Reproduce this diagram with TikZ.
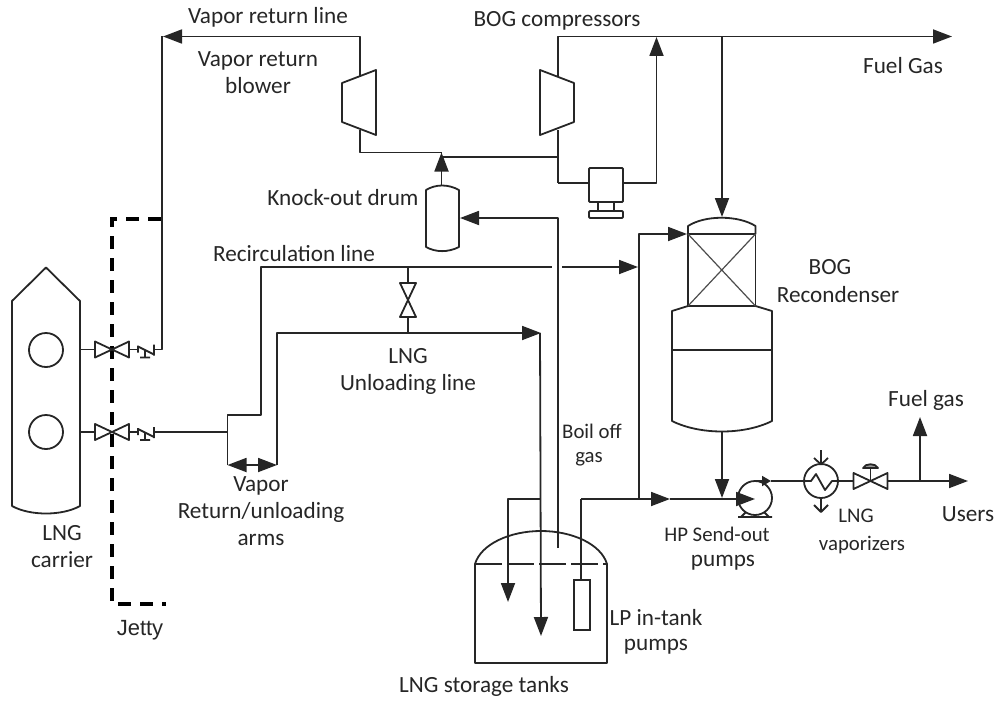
\documentclass[tikz,border=0pt]{standalone}
\usepackage{fontspec}
\setmainfont{Carlito}
\newfontfamily\jettyfont{Liberation Sans}
\usetikzlibrary{arrows.meta}
\tikzset{
  pipe/.style={line width=1.8pt,draw=black!85,line join=round},
  thinpipe/.style={line width=1.2pt,draw=black!70},
  flow/.style={pipe,-{Triangle[length=19pt,width=14pt]}},
  bothflow/.style={pipe,{Triangle[length=19pt,width=14pt]}-{Triangle[length=19pt,width=14pt]}},
  jettyline/.style={line width=4pt,draw=black,dash pattern=on 13pt off 9pt},
  lbl/.style={font=\fontsize{23.2}{24}\selectfont,text=black!85,inner sep=0pt,align=center},
  lblsmall/.style={lbl,font=\fontsize{20.8}{24}\selectfont},
  valveh/.pic={\draw[pipe] (-17,-8) -- (17,8) -- (17,-8) -- (-17,8) -- cycle;},
  valvev/.pic={\draw[pipe] (-8,-17) -- (8,17) -- (-8,17) -- (8,-17) -- cycle;},
  swivel/.pic={\draw[pipe] (0,-4) -- (0,3) (0,-3) -- (16,5) (16,-5) -- (16,6) (7,0) -- (7,8) (2,8) -- (12,8);},
  compressor/.pic={\draw[pipe] (-17,-20) -- (17,-33) -- (17,32) -- (-17,19) -- cycle;}
}
\begin{document}
\begin{tikzpicture}[x=1pt,y=-1pt]
\useasboundingbox (0,0) rectangle (1000,701);

% jetty
\coordinate (jtop) at (161,219);
\coordinate (jc1) at (112,219);
\coordinate (jc2) at (112,604);
\coordinate (jend) at (166,604);
\draw[jettyline] (jtop) -- (jc1) -- (jc2) -- (jend);

% LNG carrier
\draw[pipe] (12,301) -- (46,267.5) -- (80,301) -- (80,506) .. controls (62,516) and (30,516) .. (12,506) -- cycle;
\node[circle,draw=black!85,line width=1.8pt,minimum size=34pt,inner sep=0pt] (tankA) at (46,350) {};
\node[circle,draw=black!85,line width=1.8pt,minimum size=34pt,inner sep=0pt] (tankB) at (46,432) {};

% unloading valves
\coordinate (shipA) at (80,349.5);
\coordinate (shipB) at (80,432);
\coordinate (vAl) at (95,349.5);
\coordinate (vAr) at (129,349.5);
\coordinate (sAl) at (138,349.5);
\coordinate (sAr) at (154,349.5);
\coordinate (vBl) at (95,432);
\coordinate (vBr) at (129,432);
\coordinate (sBl) at (138,432);
\coordinate (sBr) at (154,432);
\pic at (112,349.5) {valveh};
\pic at (112,432) {valveh};
\pic at (138,349.5) {swivel};
\pic at (138,432) {swivel};
\draw[pipe] (shipA) -- (vAl) (vAr) -- (sAl);
\draw[pipe] (shipB) -- (vBl) (vBr) -- (sBl);

% vapour return line
\coordinate (vr1) at (162,349.5);
\coordinate (vr2) at (162,36.5);
\coordinate (vrtip) at (163,36.5);
\coordinate (bl1) at (360,36.5);
\coordinate (bl2) at (360,76);
\coordinate (bl3) at (360,130);
\coordinate (bl4) at (360,152.5);
\coordinate (koT) at (441.5,152.5);
\coordinate (koJ) at (441.5,157);
\draw[pipe] (sAr) -- (vr1) -- (vr2);
\draw[flow] (bl2) -- (bl1) -- (vrtip);
\pic at (359,103) {compressor};
\draw[pipe] (bl3) -- (bl4) -- (koT);

% BOG compressor and fuel gas
\coordinate (c1) at (558,76);
\coordinate (c2) at (558,36.5);
\coordinate (c3) at (558,130);
\coordinate (c4) at (558,157);
\coordinate (c5) at (558,183);
\coordinate (fgtip) at (952,36.5);
\coordinate (mr1) at (656.5,183);
\coordinate (mr2) at (656.5,37);
\coordinate (rtop) at (722,36.5);
\coordinate (rin) at (722,217);
\draw[flow] (c1) -- (c2) -- (fgtip);
\draw[pipe] (540,70) -- (574,83) -- (574,122) -- (540,135) -- cycle;
\draw[pipe] (c3) -- (c5);
\draw[pipe] (koT) -- (koJ) -- (c4);
\node[draw=black!85,line width=1.8pt,rounded corners=1pt,minimum size=34pt,inner sep=0pt] (motor) at (606,185) {};
\draw[pipe] (c5) -- (motor.west |- c5);
\draw[flow] (motor.east |- mr1) -- (mr1) -- (mr2);
\draw[pipe] (598,202) -- (598,211) (614,202) -- (614,211);
\draw[pipe,rounded corners=1pt] (589,211) rectangle (623,218);
\draw[flow] (rtop) -- (rin);

% knock-out drum
\draw[pipe] (426,190) .. controls (436,184) and (448,184) .. (459,190) -- (459,247) .. controls (448,252.5) and (436,252.5) .. (426,247) -- cycle;
\coordinate (drumT) at (441.5,185);
\coordinate (drumR) at (460,218);
\coordinate (bogturn) at (558,218);
\coordinate (bogend) at (558,548);
\draw[flow] (drumT) -- (koT);
\draw[flow] (bogend) -- (bogturn) -- (drumR);

% recirculation and unloading lines
\coordinate (a0) at (155,432);
\coordinate (a1) at (227.5,432);
\coordinate (a2) at (227.5,415);
\coordinate (a3) at (261,415);
\coordinate (a4) at (261,267);
\coordinate (gapL) at (552,267);
\coordinate (gapR) at (562,267);
\coordinate (rctip) at (638,267);
\coordinate (a5) at (227.5,465);
\coordinate (u1) at (277,465);
\coordinate (u2) at (277,333);
\coordinate (u3) at (541,333);
\coordinate (v1) at (408,267);
\coordinate (v2) at (408,283);
\coordinate (v3) at (408,317);
\coordinate (v4) at (408,333);
\draw[pipe] (a0) -- (a1);
\draw[pipe] (a5) -- (a2) -- (a3) -- (a4) -- (gapL);
\draw[flow] (gapR) -- (rctip);
\draw[bothflow] (a5) -- (u1);
\draw[flow] (u1) -- (u2) -- (u3);
\draw[pipe] (v1) -- (v2) (v3) -- (v4);
\pic at (408,300) {valvev};

% storage tank
\draw[pipe] (475,564) .. controls (481,544) and (510,531) .. (541,531) .. controls (572,531) and (601,544) .. (607,564) -- (607,663) -- (475,663) -- cycle;
\draw[draw=white,line width=2.5pt] (475.9,564) -- (606.1,564);
\draw[pipe,dash pattern=on 27pt off 5pt] (475,564) -- (607,564);
\coordinate (t1) at (540,333);
\coordinate (t2) at (541,636);
\coordinate (t3) at (508,499);
\coordinate (t4) at (508,602);
\coordinate (t5) at (540,499);
\draw[flow] (t1) -- (t2);
\draw[flow] (t5) -- (t3) -- (t4);
\node[draw=black!85,line width=1.8pt,minimum width=16pt,minimum height=50pt,inner sep=0pt] (lp) at (582,605) {};
\coordinate (lp1) at (581,499);
\coordinate (lp2) at (670,499);
\coordinate (lp3) at (639,499);
\coordinate (lp4) at (639,234);
\coordinate (lp5) at (687,234);
\coordinate (lp6) at (755,499);
\draw[pipe] (lp.north -| lp1) -- (lp1);
\draw[flow] (lp1) -- (lp2);
\draw[flow] (lp3) -- (lp4) -- (lp5);
\draw[flow] (lp2) -- (lp6);

% recondenser
\draw[pipe] (688,234) -- (688,226) .. controls (705,215) and (738,215) .. (755.5,226) -- (755.5,234) -- cycle;
\draw[pipe] (688,234) rectangle (755.5,306);
\draw[thinpipe] (688,234) -- (755.5,306) (755.5,234) -- (688,306);
\draw[pipe] (688,306) -- (672,311) -- (672,421) .. controls (700,435) and (744,435) .. (772,421) -- (772,311) -- (755.5,306);
\draw[pipe] (672,350) -- (772,350);
\coordinate (rb) at (722,432);
\coordinate (rbtip) at (722,498);
\draw[flow] (rb) -- (rbtip);

% HP pump
\node[circle,draw=black!85,line width=1.8pt,minimum size=34pt,inner sep=0pt] (pump) at (755,498) {};
\draw[pipe] (738,517) -- (772,517) (741,517) -- (746,512) (769,517) -- (764,512);
\coordinate (po1) at (755,481);
\coordinate (po2) at (771,481);
\coordinate (po3) at (804,481);
\draw[pipe,-{Triangle[length=9pt,width=10pt]}] (po1) -- (po2);
\draw[pipe] (po2) -- (po3);

% vaporizer
\node[circle,draw=black!85,line width=1.8pt,minimum size=34pt,inner sep=0pt] (hx) at (821,481) {};
\draw[pipe] (hx.west) -- (811,481) -- (816,474) -- (825,490) -- (832,481) -- (hx.east);
\coordinate (h1) at (821,450);
\coordinate (h2) at (821,498);
\coordinate (h3) at (821,512);
\draw[pipe] (h1) -- (hx.north);
\draw[pipe] (814,458) -- (821,464.5) -- (828,458);
\draw[pipe] (hx.south) -- (h3);
\draw[pipe] (814,505) -- (821,512) -- (828,505);

% control valve
\coordinate (cv1) at (854,481);
\coordinate (cv2) at (887,481);
\coordinate (usr) at (968,481);
\coordinate (fg1) at (920,481);
\coordinate (fg2) at (920,417);
\pic at (870.5,481) {valveh};
\draw[pipe] (hx.east) -- (cv1);
\draw[pipe] (870.5,481) -- (870.5,468);
\draw[pipe,fill=black!40] (863,468) .. controls (865,463) and (876,463) .. (878,468) -- cycle;
\draw[flow] (cv2) -- (usr);
\draw[flow] (fg1) -- (fg2);

% labels
\node[lbl] (t01) at (268,17) {Vapor return line};
\node[lbl] (t02) at (258,73) {Vapor return\\[3pt]blower};
\node[lbl] (t03) at (557,21) {BOG compressors};
\node[lbl] (t04) at (903,66) {Fuel Gas};
\node[lbl] (t05) at (343,198) {Knock-out drum};
\node[lbl] (t06) at (294,254) {Recirculation line};
\node[lbl] (t07) at (830,267) {BOG};
\node[lbl] (t08) at (838,295) {Recondenser};
\node[lbl] (t09) at (408,371) {LNG\\[3pt]Unloading line};
\node[lblsmall] (t10) at (592,431) {Boil off};
\node[lblsmall] (t11) at (589,459) {gas};
\node[lbl] (t12) at (926,400) {Fuel gas};
\node[lbl] (t13) at (968,514) {Users};
\node[lblsmall] (t14) at (856,516) {LNG};
\node[lblsmall] (t15) at (862,545) {vaporizers};
\node[lblsmall] (t16) at (717,534) {HP Send-out};
\node[lbl] (t17) at (723,563) {pumps};
\node[lbl] (t18) at (261,511.5) {Vapor\\[3pt]Return/unloading\\[3pt]arms};
\node[lbl] (t19) at (62,547) {LNG\\[3pt]carrier};
\node[lbl,font=\jettyfont\fontsize{22}{24}\selectfont] (t20) at (140,630) {Jetty};
\node[lbl] (t21) at (656,618) {LP in-tank};
\node[lbl] (t22) at (656,647) {pumps};
\node[lbl] (t23) at (484,686) {LNG storage tanks};
\end{tikzpicture}
\end{document}
